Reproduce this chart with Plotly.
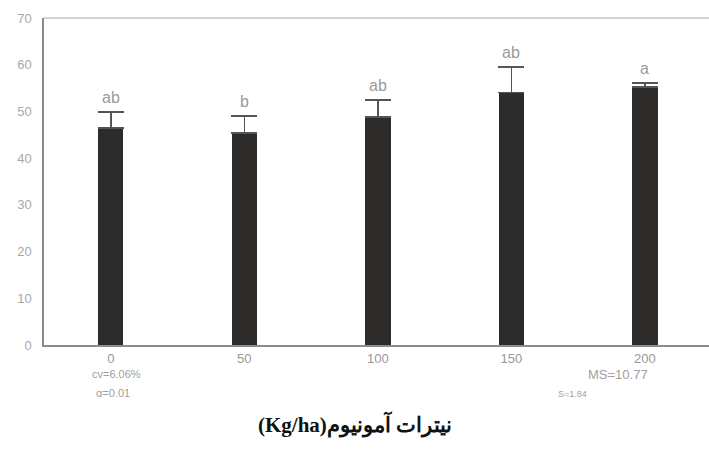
import plotly.graph_objects as go

# Ammonium nitrate rates (kg/ha) and measured means with standard errors
rates = ["0", "50", "100", "150", "200"]
means = [46.5, 45.4, 48.8, 54.0, 55.2]
errors = [3.4, 3.6, 3.7, 5.5, 0.9]
groups = ["ab", "b", "ab", "ab", "a"]
y_ticks = [0, 10, 20, 30, 40, 50, 60, 70]

xpos = list(range(len(rates)))

PLOT_TOP, PLOT_H, PLOT_L, PLOT_W = 18, 327, 44, 665


def py(ypx):
    """Pixel row -> paper y (plot-area relative)."""
    return 1 - (ypx - PLOT_TOP) / PLOT_H


def px(xpx):
    """Pixel column -> paper x (plot-area relative)."""
    return (xpx - PLOT_L) / PLOT_W


fig = go.Figure()
fig.add_trace(go.Bar(
    x=xpos,
    y=means,
    width=0.19,
    marker=dict(color="#2e2c2b", line=dict(width=0)),
    error_y=dict(type="data", array=errors, symmetric=False,
                 arrayminus=[0] * len(errors),
                 color="#555555", thickness=1.5, width=13),
    showlegend=False,
))

# Mean-separation letters above each error bar
for x, m, e, g in zip(xpos, means, errors, groups):
    fig.add_annotation(x=x, y=m + e, text=g, showarrow=False,
                       yanchor="bottom", yshift=4,
                       font=dict(family="Arial, Liberation Sans, sans-serif",
                                 size=16, color="#9a9a9a"))

# Statistics notes under the axis
notes = [
    (0.04, 382, "cv=6.06%", 11),
    (0.015, 401, "α=0.01", 11),
    (3.80, 384, "MS=10.77", 13),
    (3.46, 401, "S=1.84", 9),
]
for x, ypx, txt, sz in notes:
    fig.add_annotation(x=x, xref="x", y=py(ypx), yref="paper",
                       text=txt, showarrow=False,
                       font=dict(family="Arial, Liberation Sans, sans-serif",
                                 size=sz, color="#a0a0a0"))

# Axis title (Persian text with unit)
fig.add_annotation(x=px(355), xref="paper", y=py(440), yref="paper",
                   text="<b>(Kg/ha)نیترات آمونیوم</b>", showarrow=False,
                   font=dict(family="Liberation Serif, DejaVu Serif, serif",
                             size=21, color="#111111"))

# Thin frame line along the top of the plot area
fig.add_shape(type="line", xref="paper", yref="paper", x0=0, x1=1, y0=1, y1=1,
              line=dict(color="#a8a8a8", width=1))

fig.update_layout(
    width=709, height=463,
    margin=dict(l=PLOT_L, r=0, t=PLOT_TOP, b=463 - PLOT_TOP - PLOT_H),
    paper_bgcolor="white", plot_bgcolor="white",
    bargap=0,
)
fig.update_xaxes(
    range=[-0.5, 4.48],
    tickmode="array", tickvals=xpos, ticktext=rates,
    showline=True, linecolor="#8c8c8c", linewidth=2,
    ticks="", showgrid=False, zeroline=False,
    tickfont=dict(family="Arial, Liberation Sans, sans-serif", size=13, color="#999999"),
)
fig.update_yaxes(
    range=[0, 70],
    tickmode="array", tickvals=y_ticks,
    showline=True, linecolor="#8c8c8c", linewidth=1.5,
    ticks="", showgrid=False, zeroline=False,
    tickfont=dict(family="Arial, Liberation Sans, sans-serif", size=13, color="#a8a8a8"),
    ticklabelstandoff=8,
)

fig.write_html("out.html")
